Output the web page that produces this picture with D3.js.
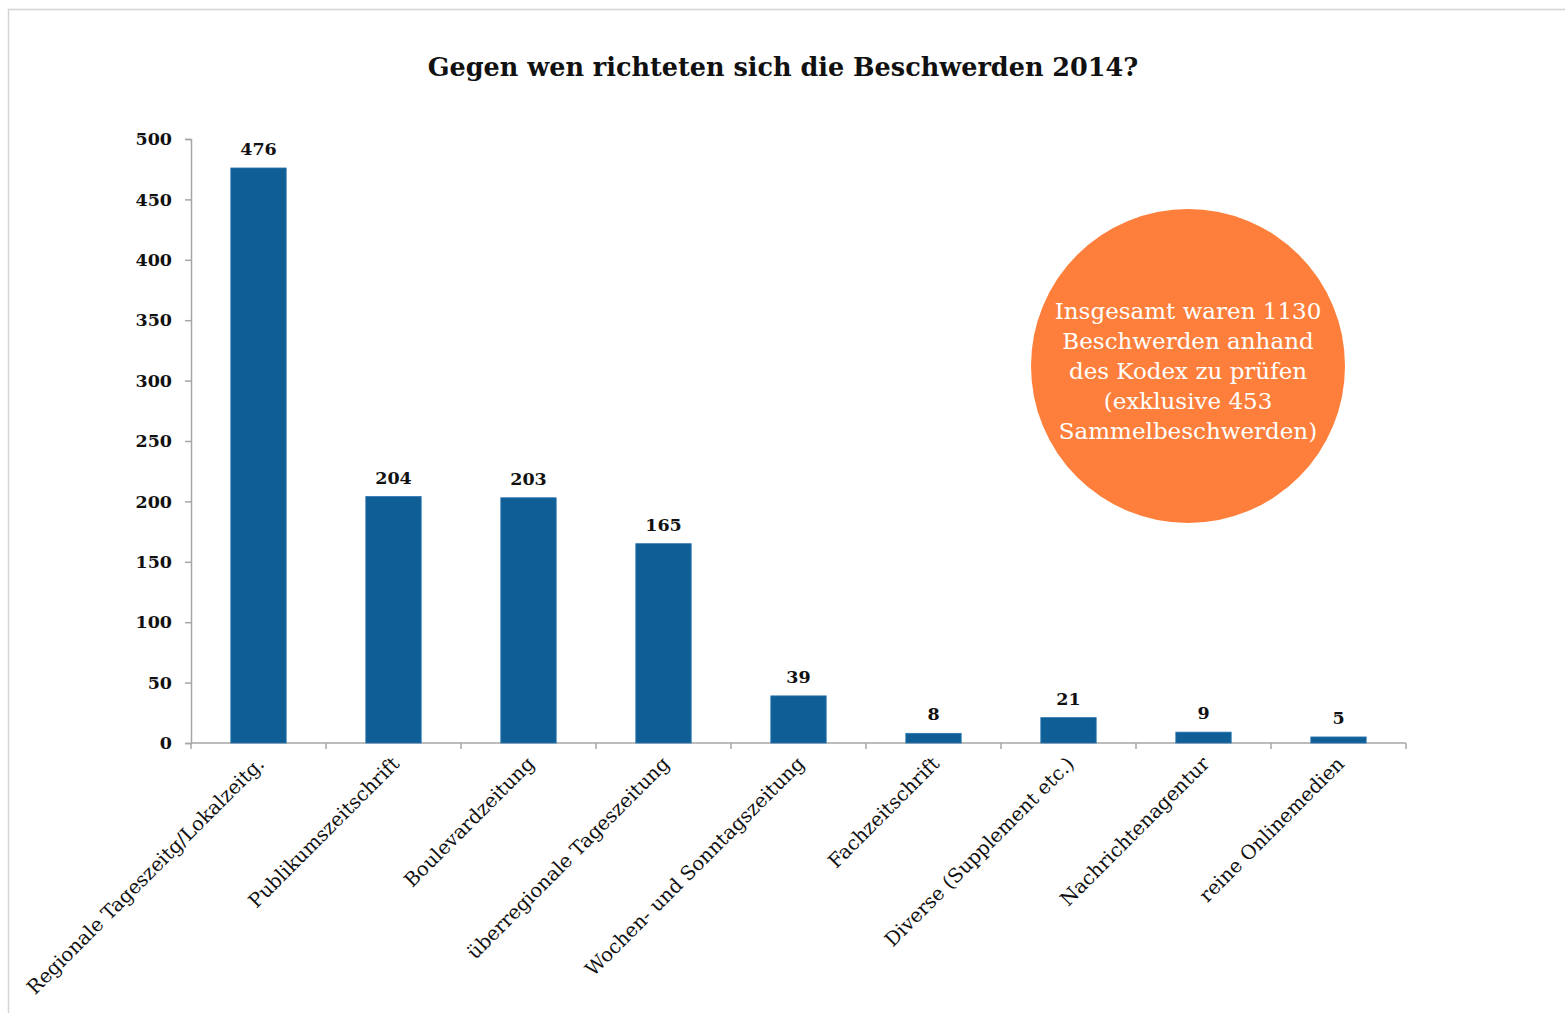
<!DOCTYPE html>
<html>
<head>
<meta charset="utf-8">
<script src="https://cdn.jsdelivr.net/npm/d3@7"></script>
<style>
  body { margin: 0; background: #fff; }
  svg { display: block; }
</style>
</head>
<body>
<div class="chart"></div>
<script>
// Daten
const categories = [
  'Regionale Tageszeitg/Lokalzeitg.',
  'Publikumszeitschrift',
  'Boulevardzeitung',
  'überregionale Tageszeitung',
  'Wochen- und Sonntagszeitung',
  'Fachzeitschrift',
  'Diverse (Supplement etc.)',
  'Nachrichtenagentur',
  'reine Onlinemedien'
];
const values = [476, 204, 203, 165, 39, 8, 21, 9, 5];
const yTicks = [0, 50, 100, 150, 200, 250, 300, 350, 400, 450, 500];
const title = 'Gegen wen richteten sich die Beschwerden 2014?';
const noteLines = [
  'Insgesamt waren 1130',
  'Beschwerden anhand',
  'des Kodex zu prüfen',
  '(exklusive 453',
  'Sammelbeschwerden)'
];

const width = 1565;
const height = 1013;
const font = '"DejaVu Serif", "Liberation Serif", serif';

const svg = d3.select('.chart').append('svg')
    .attr('width', width)
    .attr('height', height);

// Rahmen
svg.append('rect')
    .attr('x', 8.5)
    .attr('y', 9.5)
    .attr('width', width + 20)
    .attr('height', height + 20)
    .attr('fill', 'none')
    .attr('stroke', '#d4d4d4')
    .attr('stroke-width', 1.5);

// Skalen
const x = d3.scaleBand()
    .domain(categories)
    .range([191, 1406])
    .paddingInner(0.59)
    .paddingOuter(0.295);
const y = d3.scaleLinear()
    .domain([0, 500])
    .range([743, 139]);

// Titel
svg.append('text')
    .attr('x', 783)
    .attr('y', 76)
    .attr('text-anchor', 'middle')
    .style('font-family', font)
    .style('font-weight', 'bold')
    .style('font-size', '25.5px')
    .attr('fill', '#111')
    .text(title);

// y-Achse
const yAxis = svg.append('g')
    .attr('transform', 'translate(191,0)')
    .call(d3.axisLeft(y).tickValues(yTicks).tickSize(6).tickPadding(13));
yAxis.selectAll('path, line').attr('stroke', '#a6a6a6').attr('stroke-width', 1.5);
yAxis.selectAll('text')
    .style('font-family', font)
    .style('font-weight', 'bold')
    .style('font-size', '17.5px')
    .attr('fill', '#111');

// x-Achse
const bounds = d3.range(categories.length + 1).map(i => 191 + i * x.step());
const xAxis = svg.append('g');
xAxis.append('line')
    .attr('x1', 191).attr('x2', 1406)
    .attr('y1', y(0)).attr('y2', y(0))
    .attr('stroke', '#a6a6a6').attr('stroke-width', 1.5);
xAxis.selectAll('.tick')
    .data(bounds)
    .enter()
    .append('line')
    .attr('x1', d => d).attr('x2', d => d)
    .attr('y1', y(0)).attr('y2', y(0) + 6)
    .attr('stroke', '#a6a6a6').attr('stroke-width', 1.5);

// Balken
svg.selectAll('.bar')
    .data(values)
    .enter()
    .append('rect')
    .attr('class', 'bar')
    .attr('x', (d, i) => x(categories[i]))
    .attr('width', x.bandwidth())
    .attr('y', d => y(d))
    .attr('height', d => y(0) - y(d))
    .attr('fill', '#0f5e96')
    .attr('stroke', '#2a74b0')
    .attr('stroke-width', 0.8);

// Werte
svg.selectAll('.val')
    .data(values)
    .enter()
    .append('text')
    .attr('x', (d, i) => x(categories[i]) + x.bandwidth() / 2)
    .attr('y', d => y(d) - 13)
    .attr('text-anchor', 'middle')
    .style('font-family', font)
    .style('font-weight', 'bold')
    .style('font-size', '17.5px')
    .attr('fill', '#111')
    .text(d => d);

// Kategorien
svg.selectAll('.cat')
    .data(categories)
    .enter()
    .append('text')
    .attr('transform', d => 'translate(' + (x(d) + x.bandwidth() / 2 + 7) + ',' + (y(0) + 22) + ') rotate(-45)')
    .attr('text-anchor', 'end')
    .style('font-family', font)
    .style('font-size', '19.5px')
    .attr('fill', '#111')
    .text(d => d);

// Hinweis-Kreis
const note = svg.append('g').attr('transform', 'translate(1188,366)');
note.append('circle')
    .attr('r', 157)
    .attr('fill', '#fe7f3b');
note.selectAll('text')
    .data(noteLines)
    .enter()
    .append('text')
    .attr('x', 0)
    .attr('y', (d, i) => -47 + i * 30)
    .attr('text-anchor', 'middle')
    .style('font-family', font)
    .style('font-size', '23px')
    .attr('fill', '#fff')
    .text(d => d);
</script>
</body>
</html>
